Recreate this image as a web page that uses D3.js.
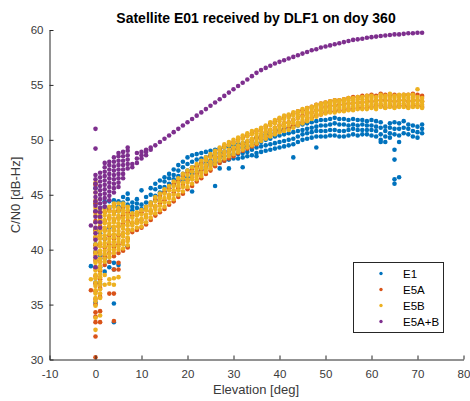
<!DOCTYPE html>
<html><head><meta charset="utf-8">
<script src="https://cdn.jsdelivr.net/npm/d3@7"></script>
<style>
html,body{margin:0;padding:0;background:#fff;}
svg{display:block;font-family:"Liberation Sans",Arial,Helvetica,sans-serif;}
</style></head>
<body>
<svg id="chart" width="470" height="401"></svg>
<script>
const title = "Satellite E01 received by DLF1 on doy 360";
const xLabel = "Elevation [deg]";
const yLabel = "C/N0 [dB-Hz]";
const xTicks = [-10,0,10,20,30,40,50,60,70,80];
const yTicks = [30,35,40,45,50,55,60];
const seriesNames = ["E1","E5A","E5B","E5A+B"];
const seriesColors = ["#0072BD","#D95319","#EDB120","#7E2F8E"];

// each entry: [elevation (deg), [C/N0 values (dB-Hz)]]
const E1 = [
[-1,[38.5]],
[0,[35.2,37.0,38.4,39.8,40.5,41.8,43.5,44.2,45.6,46.0]],
[1,[36.9,38.4,39.5,41.5,42.9,43.8]],
[2,[38.0,39.2,41.0,43.9,44.4]],
[3,[38.4,38.9,42.0,43.8,44.4]],
[4,[33.4,35.1,38.2,38.8,44.0,44.5]],
[5,[38.6,43.5,43.9,44.4]],
[6,[43.8,44.3,44.8]],
[7,[40.3,44.1,44.6,45.1]],
[8,[43.6,43.9,44.3]],
[9,[43.8,44.2,44.6]],
[10,[43.7,44.1,45.4]],
[11,[43.9,44.3,44.8]],
[12,[44.3,45.0,45.6]],
[13,[44.5,44.9,45.5,46.0]],
[14,[44.9,45.2,45.7,46.3]],
[15,[45.3,45.7,46.2,46.6]],
[16,[45.6,46.0,46.5,46.9]],
[17,[45.9,46.4,46.8,47.3]],
[18,[46.2,46.7,47.2,47.7]],
[19,[46.4,46.9,47.5,48.0]],
[20,[46.6,47.2,47.8,48.4]],
[21,[45.3,46.9,47.5,48.0,48.6]],
[22,[47.1,47.6,48.2,48.7]],
[23,[47.3,47.8,48.3,48.8]],
[24,[47.5,48.0,48.4,48.9]],
[25,[47.7,48.1,48.6,49.0]],
[26,[45.8,47.9,48.3,48.7,49.1]],
[27,[47.4,48.0,48.4,48.8,49.2]],
[28,[48.1,48.5,48.9,49.3]],
[29,[47.4,48.2,48.6,49.0,49.4]],
[30,[48.3,48.7,49.1,49.5]],
[31,[48.3,48.7,49.2,49.6]],
[32,[47.5,48.4,48.8,49.3,49.7]],
[33,[48.5,48.9,49.4,49.8]],
[34,[48.6,49.1,49.5,50.0]],
[35,[48.5,48.8,49.3,49.7,50.2]],
[36,[48.9,49.4,49.8,50.3]],
[37,[49.0,49.5,50.0,50.5]],
[38,[49.1,49.6,50.1,50.6]],
[39,[49.2,49.7,50.3,50.8]],
[40,[49.3,49.8,50.4,50.9]],
[41,[49.4,49.9,50.5,51.0]],
[42,[49.5,50.0,50.6,51.1]],
[43,[48.4,49.6,50.1,50.7,51.2]],
[44,[49.8,50.3,50.8,51.3]],
[45,[50.0,50.5,50.9,51.4]],
[46,[50.1,50.6,51.0,51.5]],
[47,[50.2,50.7,51.1,51.6]],
[48,[49.3,50.3,50.8,51.2,51.7]],
[49,[50.3,50.8,51.3,51.8]],
[50,[50.3,50.8,51.3,51.8]],
[51,[50.4,50.9,51.4,51.9]],
[52,[50.4,50.9,51.5,52.0]],
[53,[50.3,50.8,51.4,51.9]],
[54,[50.3,50.8,51.4,51.9]],
[55,[50.4,50.9,51.3,51.8]],
[56,[50.5,51.0,51.4,51.9]],
[57,[50.4,50.9,51.3,51.8]],
[58,[50.5,50.9,51.4,51.8]],
[59,[50.5,50.9,51.3,51.7]],
[60,[50.4,50.9,51.3,51.8]],
[61,[50.3,50.8,51.2,51.7]],
[62,[49.8,50.0,50.5,51.1,51.6]],
[63,[49.8,50.3,50.8,51.2]],
[64,[50.2,50.6,51.1,51.5]],
[65,[46.0,46.4,48.2,49.1,50.5,51.0,51.6]],
[66,[46.6,49.8,50.4,51.0,51.5]],
[67,[50.6,51.1,51.7]],
[68,[50.5,51.0,51.4]],
[69,[50.3,50.8,51.3]],
[70,[50.2,50.7,51.2]],
[71,[50.6,51.0,51.4]]
];

const E5A = [
[-1,[36.3]],
[0,[30.2,32.1,33.4,33.9,34.3,35.0,35.5,36.2,36.9,37.6,38.3,39.0,39.7,40.4,41.1,41.8,42.6,43.4,44.2,45.9]],
[1,[33.4,34.4,35.7,36.5,37.3,38.1,38.9,39.7,40.5,41.3,42.1,42.9,43.5]],
[2,[38.6,39.4,40.2,41.0,41.8,42.6,43.4]],
[3,[36.0,38.9,39.7,40.5,41.3,42.1,42.9,43.6]],
[4,[33.5,36.0,38.2,39.4,40.2,41.0,41.8,42.6,43.4,44.0]],
[5,[38.2,38.8,39.7,40.5,41.3,42.1,42.9,43.6]],
[6,[39.9,40.7,41.5,42.3,43.1,43.9]],
[7,[40.2,41.0,41.8,42.6,43.4]],
[8,[41.6,42.4,43.1]],
[9,[41.8,42.6,43.3]],
[10,[42.0,42.7,43.4]],
[11,[42.3,43.0,43.8]],
[12,[42.7,43.5,44.1]],
[13,[43.1,43.9,44.6]],
[14,[43.4,44.2,44.9]],
[15,[43.7,44.5,45.2]],
[16,[44.1,44.9,45.6]],
[17,[44.4,45.2,46.0]],
[18,[44.8,45.6,46.3]],
[19,[45.1,45.9,46.7]],
[20,[45.5,46.3,47.0]],
[21,[45.8,46.6,47.3]],
[22,[46.2,46.9,47.6]],
[23,[46.5,47.2,47.9]],
[24,[46.9,47.6,48.2]],
[25,[47.2,47.9,48.5]],
[26,[47.6,48.2,48.8]],
[27,[47.9,48.5,49.1]],
[28,[48.1,48.8,49.4]],
[29,[48.3,49.0,49.6]],
[30,[48.5,49.2,49.8]],
[31,[48.8,49.4,50.0]],
[32,[49.0,49.6,50.2]],
[33,[49.2,49.8,50.4]],
[34,[49.4,50.0,50.6]],
[35,[49.6,50.2,50.8]],
[36,[50.0,50.4,51.0]],
[37,[50.2,50.7,51.2]],
[38,[50.4,50.9,51.5]],
[39,[50.6,51.1,51.7]],
[40,[50.8,51.3,51.9]],
[41,[50.9,51.5,52.1]],
[42,[51.1,51.6,52.2]],
[43,[51.3,51.8,52.4]],
[44,[51.4,52.0,52.6]],
[45,[51.6,52.2,52.7]],
[46,[51.8,52.4,52.9]],
[47,[52.0,52.5,53.0]],
[48,[52.2,52.7,53.2]],
[49,[52.3,52.8,53.3]],
[50,[52.5,53.0,53.4]],
[51,[52.6,53.1,53.5]],
[52,[52.6,53.1,53.6]],
[53,[52.7,53.2,53.6]],
[54,[52.7,53.2,53.7]],
[55,[52.8,53.3,53.8]],
[56,[52.8,53.3,53.9]],
[57,[52.9,53.4,53.9]],
[58,[52.9,53.4,54.0]],
[59,[52.9,53.5,54.0]],
[60,[53.0,53.5,54.1]],
[61,[53.2,53.6,54.0]],
[62,[53.1,53.6,54.2]],
[63,[52.95,53.6,54.1]],
[64,[53.1,53.6,54.0]],
[65,[53.0,53.5,54.1]],
[66,[53.1,53.6,54.0]],
[67,[53.1,53.6,54.1]],
[68,[53.0,53.5,54.1]],
[69,[53.1,53.6,54.2]],
[70,[53.1,53.6,54.1]],
[71,[53.0,53.5,54.0]]
];

const E5B = [
[-1,[37.3]],
[0,[32.7,33.8,34.9,35.3,35.6,36.0,36.3,36.7,37.0,37.4,37.7,38.1,38.4,38.8,39.1,39.5,39.8,40.2,40.5,40.9,41.2,41.6,42.0,42.5,43.1,43.8,44.5,45.2,46.1]],
[1,[34.0,35.6,36.0,36.4,36.8,37.1,37.5,37.8,38.2,38.5,38.9,39.2,39.6,39.9,40.3,40.6,41.0,41.3,41.7,42.0,42.4,42.7,43.1,43.4,43.7]],
[2,[36.8,37.7,38.9,39.2,39.6,39.9,40.3,40.6,41.0,41.3,41.7,42.0,42.4,42.7,43.1,43.4,43.7]],
[3,[36.9,37.3,39.3,39.6,40.0,40.3,40.7,41.0,41.4,41.7,42.1,42.4,42.8,43.1,43.5,43.9]],
[4,[36.8,37.4,39.7,40.0,40.4,40.7,41.1,41.4,41.8,42.1,42.5,42.8,43.2,43.5,43.9,44.2]],
[5,[37.5,40.0,40.3,40.7,41.0,41.4,41.7,42.1,42.4,42.8,43.1,43.5,43.8,44.2]],
[6,[40.1,40.5,40.8,41.2,41.5,41.9,42.2,42.6,42.9,43.3,43.6,44.0,44.2]],
[7,[40.4,40.8,41.1,41.5,41.8,42.2,42.5,42.9,43.2,43.6,43.9]],
[8,[41.8,42.2,42.5,42.9,43.3]],
[9,[42.0,42.4,42.7,43.1,43.4]],
[10,[42.1,42.5,42.8,43.2,43.6]],
[11,[42.5,42.9,43.2,43.6,43.9]],
[12,[42.9,43.3,43.6,44.0,44.3]],
[13,[43.3,43.7,44.0,44.4,44.8]],
[14,[43.6,44.0,44.4,44.7,45.1]],
[15,[43.9,44.3,44.7,45.1,45.5]],
[16,[44.3,44.7,45.0,45.4,45.8]],
[17,[44.6,45.0,45.4,45.8,46.2]],
[18,[45.0,45.4,45.8,46.1,46.5]],
[19,[45.3,45.7,46.1,46.5,46.9]],
[20,[45.7,46.1,46.4,46.8,47.2]],
[21,[46.0,46.4,46.7,47.1,47.5]],
[22,[46.4,46.7,47.1,47.4,47.8]],
[23,[46.7,47.0,47.4,47.7,48.1]],
[24,[47.1,47.4,47.7,48.1,48.4]],
[25,[47.4,47.7,48.0,48.4,48.7]],
[26,[47.8,48.1,48.4,48.7,49.0]],
[27,[48.1,48.4,48.7,49.0,49.3]],
[28,[48.3,48.6,48.9,49.3,49.6]],
[29,[48.5,48.8,49.1,49.5,49.8]],
[30,[48.7,49.0,49.3,49.7,50.0]],
[31,[48.9,49.2,49.5,49.9,50.2]],
[32,[49.1,49.4,49.7,50.1,50.4]],
[33,[49.3,49.6,49.9,50.3,50.6]],
[34,[49.5,49.8,50.1,50.5,50.8]],
[35,[49.7,50.0,50.3,50.6,50.9]],
[36,[49.9,50.2,50.5,50.8,51.1]],
[37,[50.1,50.4,50.7,51.0,51.3]],
[38,[50.3,50.6,50.9,51.3,51.6]],
[39,[50.5,50.8,51.1,51.5,51.8]],
[40,[50.7,51.0,51.3,51.7,52.0]],
[41,[50.8,51.2,51.5,51.9,52.2]],
[42,[50.9,51.3,51.6,52.0,52.3]],
[43,[51.1,51.5,51.8,52.2,52.5]],
[44,[51.3,51.6,52.0,52.3,52.6]],
[45,[51.5,51.8,52.1,52.5,52.8]],
[46,[51.7,52.0,52.3,52.6,52.9]],
[47,[51.9,52.2,52.5,52.8,53.0]],
[48,[52.1,52.4,52.7,53.0,53.2]],
[49,[52.3,52.6,52.8,53.1,53.3]],
[50,[52.4,52.7,52.9,53.2,53.4]],
[51,[52.5,52.8,53.0,53.3,53.5]],
[52,[52.5,52.8,53.1,53.4,53.6]],
[53,[52.6,52.9,53.1,53.4,53.6]],
[54,[52.6,52.9,53.2,53.5,53.7]],
[55,[52.7,53.0,53.3,53.6,53.8]],
[56,[52.7,53.0,53.3,53.6,53.8]],
[57,[52.8,53.1,53.4,53.7,53.9]],
[58,[52.8,53.1,53.4,53.7,53.9]],
[59,[52.8,53.1,53.4,53.7,54.0]],
[60,[52.9,53.2,53.5,53.8,54.0]],
[61,[52.8,53.0,53.3,53.6,53.9]],
[62,[53.0,53.3,53.6,53.9,54.1]],
[63,[52.9,53.2,53.5,53.8,54.0]],
[64,[53.0,53.3,53.6,53.9,54.2]],
[65,[52.9,53.2,53.5,53.8,54.0]],
[66,[53.0,53.3,53.6,53.9,54.1]],
[67,[53.0,53.3,53.6,53.9,54.1]],
[68,[52.9,53.2,53.5,53.8,54.1]],
[69,[53.0,53.3,53.6,53.9,54.1]],
[70,[53.0,53.3,53.6,53.9,54.6]],
[71,[52.9,53.2,53.5,53.8]]
];

const E5AB = [
[-1,[42.2]],
[0,[38.4,39.3,40.1,40.9,41.5,42.0,42.5,43.0,43.5,44.0,44.4,44.8,45.2,45.6,46.0,46.4,46.8,49.2,51.0]],
[1,[42.0,42.5,43.0,43.4,43.8,44.2,44.6,45.0,45.4,45.8,46.2,46.6,47.0]],
[2,[43.9,44.3,44.7,45.1,45.5,45.9,46.3,46.7,47.1,47.5,47.9]],
[3,[44.5,44.9,45.3,45.7,46.1,46.5,46.9,47.3,47.7,48.0]],
[4,[45.2,45.6,46.0,46.4,46.8,47.2,47.6,48.0,48.4]],
[5,[45.7,46.1,46.5,46.9,47.3,47.7,48.1,48.5,48.8]],
[6,[46.5,46.9,47.3,47.7,48.1,48.5,48.9]],
[7,[47.4,47.8,48.2,48.6,49.0,49.3]],
[8,[47.5,47.8]],
[9,[47.9,48.3,48.8]],
[10,[48.3,48.6,48.9]],
[11,[48.6,48.9,49.1]],
[12,[49.1,49.3]],
[13,[49.5]],[14,[49.8]],[15,[50.1]],[16,[50.4]],[17,[50.7]],[18,[51.0]],
[19,[51.3]],[20,[51.6]],[21,[51.9]],[22,[52.2]],[23,[52.5]],[24,[52.8]],
[25,[53.1]],[26,[53.4]],[27,[53.7]],[28,[54.0]],[29,[54.3]],[30,[54.6]],
[31,[54.9]],[32,[55.2]],[33,[55.5]],[34,[55.8]],[35,[56.1]],[36,[56.35]],
[37,[56.55]],[38,[56.75]],[39,[56.95]],[40,[57.1]],[41,[57.25]],[42,[57.4]],
[43,[57.55]],[44,[57.7]],[45,[57.85]],[46,[58.0]],[47,[58.15]],[48,[58.25]],
[49,[58.4]],[50,[58.5]],[51,[58.6]],[52,[58.7]],[53,[58.8]],[54,[58.9]],
[55,[59.0]],[56,[59.1]],[57,[59.15]],[58,[59.2]],[59,[59.3]],[60,[59.35]],
[61,[59.4]],[62,[59.45]],[63,[59.5]],[64,[59.55]],[65,[59.6]],[66,[59.6]],
[67,[59.65]],[68,[59.7]],[69,[59.7]],[70,[59.75]],[71,[59.75]]
];

const allSeries = [E1, E5A, E5B, E5AB];

const svg = d3.select("#chart");
const axisColor = "#262626";
const x = d3.scaleLinear().domain([-10,80]).range([49.5,463.5]);
const y = d3.scaleLinear().domain([30,60]).range([359.5,30]);

// scatter points
allSeries.forEach((s, i) => {
  const pts = [];
  s.forEach(([e, vals]) => vals.forEach(v => pts.push([e, v])));
  svg.append("g").selectAll("circle").data(pts).join("circle")
    .attr("cx", d => x(d[0])).attr("cy", d => y(d[1]))
    .attr("r", 2.3).attr("fill", seriesColors[i]);
});

// axes
const fmt = d => String(d);
const xAxis = d3.axisBottom(x).tickValues(xTicks).tickFormat(fmt).tickSizeInner(-4).tickSizeOuter(0).tickPadding(10);
const yAxis = d3.axisLeft(y).tickValues(yTicks).tickFormat(fmt).tickSizeInner(-4).tickSizeOuter(0).tickPadding(6);
const gx = svg.append("g").attr("transform","translate(0,359.5)").call(xAxis);
const gy = svg.append("g").attr("transform","translate(49.5,0)").call(yAxis);
[gx, gy].forEach(g => {
  g.select(".domain").attr("stroke", axisColor);
  g.selectAll(".tick line").attr("stroke", axisColor);
  g.selectAll(".tick text").attr("fill", "#3a3a3a").style("font-size","11.5px")
    .style("font-family",'"Liberation Sans",Arial,Helvetica,sans-serif');
});

// title and labels
svg.append("text").attr("x",256).attr("y",22.5).attr("text-anchor","middle")
  .style("font-size","14px").style("font-weight","bold").attr("fill","#000").text(title);
svg.append("text").attr("x",256).attr("y",393.5).attr("text-anchor","middle")
  .style("font-size","13px").attr("fill","#3a3a3a").text(xLabel);
svg.append("text").attr("transform","translate(20,195) rotate(-90)").attr("text-anchor","middle")
  .style("font-size","13px").attr("fill","#3a3a3a").text(yLabel);

// legend
const lg = svg.append("g");
lg.append("rect").attr("x",353.5).attr("y",262.5).attr("width",90).attr("height",70)
  .attr("fill","#fff").attr("stroke",axisColor).attr("stroke-width",1);
seriesNames.forEach((n, i) => {
  const yy = 273.5 + i*16;
  lg.append("circle").attr("cx",381).attr("cy",yy).attr("r",1.7).attr("fill",seriesColors[i]);
  lg.append("text").attr("x",403).attr("y",yy).attr("dy","0.36em")
    .style("font-size","11.5px").attr("fill","#000").text(n);
});
</script>
</body></html>
